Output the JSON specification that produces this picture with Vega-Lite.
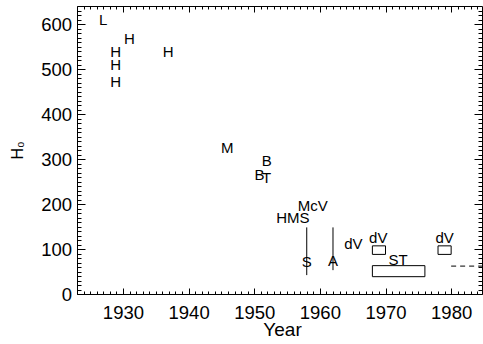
{
  "$schema": "https://vega.github.io/schema/vega-lite/v6.json",
  "width": 405,
  "height": 288,
  "autosize": "none",
  "padding": {"left": 77, "top": 6, "right": 1, "bottom": 50},
  "config": {
    "view": {"stroke": null},
    "axis": {
      "grid": false,
      "domainColor": "#000",
      "domainWidth": 1,
      "tickColor": "#000",
      "tickWidth": 1,
      "labelColor": "#000",
      "labelFont": "Liberation Sans",
      "labelFontSize": 18.5,
      "titleFont": "Liberation Sans",
      "titleColor": "#000",
      "titleFontWeight": "normal",
      "labelFlush": false,
      "labelOverlap": false
    },
    "text": {"font": "Liberation Sans", "fontSize": 15, "color": "#000"}
  },
  "layer": [
    {
      "data": {
        "values": [
          {"year": 1927, "h0": 598, "label": "L"},
          {"year": 1931, "h0": 555, "label": "H"},
          {"year": 1928.9, "h0": 526, "label": "H"},
          {"year": 1928.9, "h0": 498, "label": "H"},
          {"year": 1928.9, "h0": 461, "label": "H"},
          {"year": 1936.9, "h0": 527, "label": "H"},
          {"year": 1945.9, "h0": 314, "label": "M"},
          {"year": 1951.9, "h0": 284, "label": "B"},
          {"year": 1950.8, "h0": 253, "label": "B"},
          {"year": 1951.9, "h0": 246, "label": "T"},
          {"year": 1958.9, "h0": 185, "label": "McV"},
          {"year": 1955.9, "h0": 157, "label": "HMS"},
          {"year": 1958, "h0": 61, "label": "S"},
          {"year": 1962, "h0": 62, "label": "A"},
          {"year": 1965.1, "h0": 101, "label": "dV"},
          {"year": 1968.9, "h0": 113, "label": "dV"},
          {"year": 1971.9, "h0": 64, "label": "ST"},
          {"year": 1979, "h0": 113, "label": "dV"}
        ]
      },
      "mark": {"type": "text", "align": "center", "baseline": "alphabetic"},
      "encoding": {
        "x": {
          "field": "year", "type": "quantitative",
          "scale": {"domain": [1923, 1984.7], "nice": false, "zero": false},
          "axis": {
            "orient": "bottom",
            "values": [1930, 1940, 1950, 1960, 1970, 1980],
            "format": "d",
            "tickSize": -6,
            "labelPadding": 15.6,
            "title": "Year",
            "titleFontSize": 19,
            "titleBaseline": "alphabetic",
            "titleAlign": "center",
            "titleX": 205,
            "titleY": 41
          }
        },
        "y": {
          "field": "h0", "type": "quantitative",
          "scale": {"domain": [0, 640], "nice": false, "zero": false},
          "axis": {
            "orient": "left",
            "values": [0, 100, 200, 300, 400, 500, 600],
            "tickSize": -8,
            "labelPadding": 13.5,
            "title": "H₀",
            "titleFontSize": 16,
            "titleAngle": 270,
            "titleBaseline": "alphabetic",
            "titleAlign": "center",
            "titleX": -55,
            "titleY": 144
          }
        },
        "text": {"field": "label"}
      }
    },
    {
      "data": {
        "values": [
          {"year": 1968, "year2": 1970, "h0": 88, "h02": 107},
          {"year": 1968, "year2": 1976, "h0": 38.5, "h02": 63},
          {"year": 1978, "year2": 1980, "h0": 88, "h02": 107}
        ]
      },
      "mark": {"type": "rect", "fill": null, "stroke": "#000", "strokeWidth": 1},
      "encoding": {
        "x": {
          "field": "year", "type": "quantitative",
          "scale": {"domain": [1923, 1984.7], "nice": false, "zero": false},
          "axis": {
            "orient": "bottom",
            "values": [1923, 1924, 1925, 1926, 1927, 1928, 1929, 1931, 1932, 1933, 1934, 1935, 1936, 1937, 1938, 1939, 1941, 1942, 1943, 1944, 1945, 1946, 1947, 1948, 1949, 1951, 1952, 1953, 1954, 1955, 1956, 1957, 1958, 1959, 1961, 1962, 1963, 1964, 1965, 1966, 1967, 1968, 1969, 1971, 1972, 1973, 1974, 1975, 1976, 1977, 1978, 1979, 1981, 1982, 1983, 1984],
            "tickSize": -3,
            "labels": false,
            "domain": false,
            "title": null
          }
        },
        "x2": {"field": "year2"},
        "y": {
          "field": "h0", "type": "quantitative",
          "scale": {"domain": [0, 640], "nice": false, "zero": false},
          "axis": {
            "orient": "left",
            "values": [10, 20, 30, 40, 50, 60, 70, 80, 90, 110, 120, 130, 140, 150, 160, 170, 180, 190, 210, 220, 230, 240, 250, 260, 270, 280, 290, 310, 320, 330, 340, 350, 360, 370, 380, 390, 410, 420, 430, 440, 450, 460, 470, 480, 490, 510, 520, 530, 540, 550, 560, 570, 580, 590, 610, 620, 630],
            "tickSize": -4,
            "labels": false,
            "domain": false,
            "title": null
          }
        },
        "y2": {"field": "h02"}
      }
    },
    {
      "data": {
        "values": [
          {"year": 1958, "h0": 42, "h02": 148},
          {"year": 1962, "h0": 53, "h02": 148}
        ]
      },
      "mark": {"type": "rule", "stroke": "#000", "strokeWidth": 1},
      "encoding": {
        "x": {
          "field": "year", "type": "quantitative",
          "scale": {"domain": [1923, 1984.7], "nice": false, "zero": false},
          "axis": {
            "orient": "top",
            "values": [1930, 1940, 1950, 1960, 1970, 1980],
            "tickSize": -6,
            "labels": false,
            "domain": true,
            "title": null
          }
        },
        "y": {
          "field": "h0", "type": "quantitative",
          "scale": {"domain": [0, 640], "nice": false, "zero": false},
          "axis": {
            "orient": "right",
            "values": [0, 100, 200, 300, 400, 500, 600],
            "tickSize": -8,
            "labels": false,
            "domain": true,
            "title": null
          }
        },
        "y2": {"field": "h02"}
      }
    },
    {
      "data": {
        "values": [
          {"year": 1980, "year2": 1984.7, "h0": 62}
        ]
      },
      "mark": {"type": "rule", "stroke": "#000", "strokeWidth": 1, "strokeDash": [5, 4]},
      "encoding": {
        "x": {
          "field": "year", "type": "quantitative",
          "scale": {"domain": [1923, 1984.7], "nice": false, "zero": false},
          "axis": {
            "orient": "top",
            "values": [1923, 1924, 1925, 1926, 1927, 1928, 1929, 1931, 1932, 1933, 1934, 1935, 1936, 1937, 1938, 1939, 1941, 1942, 1943, 1944, 1945, 1946, 1947, 1948, 1949, 1951, 1952, 1953, 1954, 1955, 1956, 1957, 1958, 1959, 1961, 1962, 1963, 1964, 1965, 1966, 1967, 1968, 1969, 1971, 1972, 1973, 1974, 1975, 1976, 1977, 1978, 1979, 1981, 1982, 1983, 1984],
            "tickSize": -3,
            "labels": false,
            "domain": false,
            "title": null
          }
        },
        "x2": {"field": "year2"},
        "y": {
          "field": "h0", "type": "quantitative",
          "scale": {"domain": [0, 640], "nice": false, "zero": false},
          "axis": {
            "orient": "right",
            "values": [10, 20, 30, 40, 50, 60, 70, 80, 90, 110, 120, 130, 140, 150, 160, 170, 180, 190, 210, 220, 230, 240, 250, 260, 270, 280, 290, 310, 320, 330, 340, 350, 360, 370, 380, 390, 410, 420, 430, 440, 450, 460, 470, 480, 490, 510, 520, 530, 540, 550, 560, 570, 580, 590, 610, 620, 630],
            "tickSize": -4,
            "labels": false,
            "domain": false,
            "title": null
          }
        }
      }
    }
  ],
  "resolve": {"axis": {"x": "independent", "y": "independent"}}
}
